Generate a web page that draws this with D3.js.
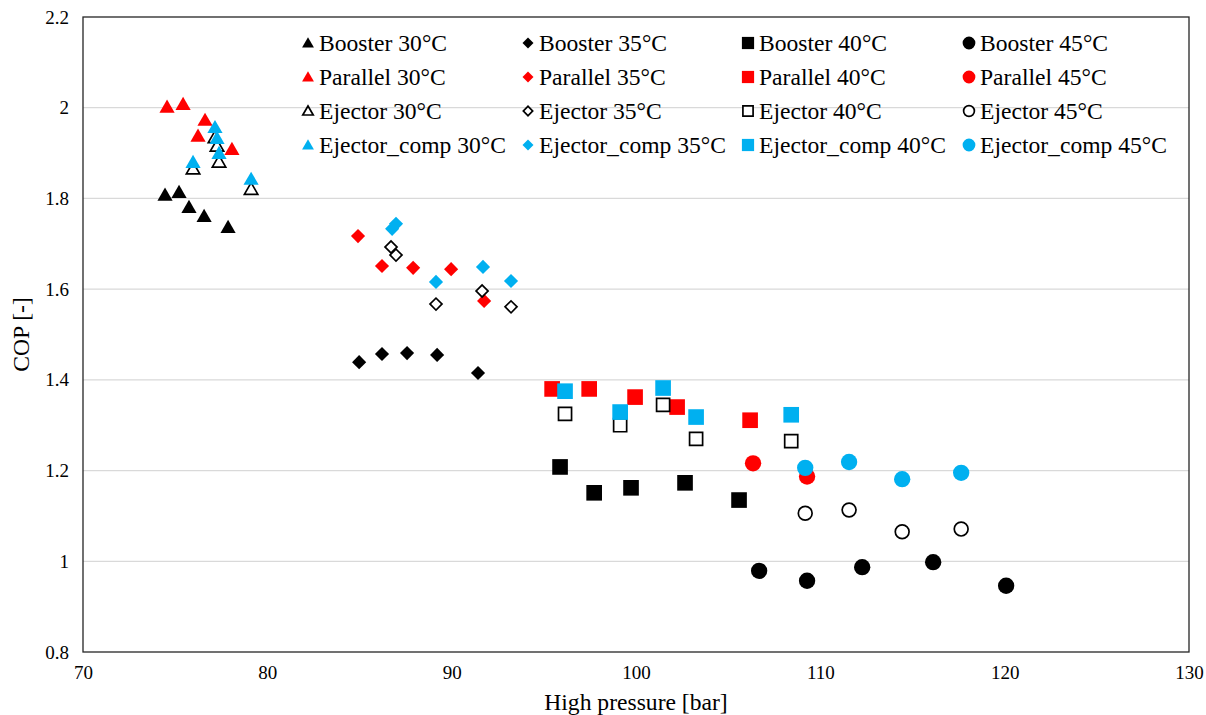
<!DOCTYPE html>
<html>
<head>
<meta charset="utf-8">
<script src="https://cdn.jsdelivr.net/npm/d3@7"></script>
<style>
  html, body { margin: 0; padding: 0; background: #fff; }
  svg { display: block; font-family: "Liberation Serif", "Times New Roman", serif; }
</style>
</head>
<body>
<svg id="chart" width="1206" height="715"></svg>
<script>
// ---------------- DATA ----------------
const temperatures = ["30°C", "35°C", "40°C", "45°C"];
const systems = ["Booster", "Parallel", "Ejector", "Ejector_comp"];
const xTicks = [70, 80, 90, 100, 110, 120, 130];
const yTicks = [0.8, 1, 1.2, 1.4, 1.6, 1.8, 2, 2.2];

// [high pressure (bar), COP]
const booster30 = [[74.45, 1.808], [75.21, 1.814], [75.75, 1.781], [76.57, 1.761], [77.87, 1.737]];
const booster35 = [[84.98, 1.439], [86.22, 1.457], [87.58, 1.459], [89.21, 1.455], [91.43, 1.415]];
const booster40 = [[95.88, 1.208], [97.73, 1.151], [99.73, 1.162], [102.66, 1.173], [105.59, 1.135]];
const booster45 = [[106.68, 0.979], [109.28, 0.957], [112.27, 0.987], [116.12, 0.998], [120.08, 0.946]];

const parallel30 = [[74.56, 2.002], [75.43, 2.008], [76.62, 1.973], [76.24, 1.938], [78.08, 1.909]];
const parallel35 = [[84.92, 1.717], [86.22, 1.651], [87.91, 1.647], [89.97, 1.644], [91.76, 1.574]];
const parallel40 = [[95.45, 1.380], [97.46, 1.380], [99.95, 1.362], [102.23, 1.340], [106.19, 1.311]];
const parallel45 = [[106.35, 1.216], [109.28, 1.187]];

const ejector30 = [[75.97, 1.866], [77.16, 1.935], [77.27, 1.916], [77.38, 1.881], [79.12, 1.821]];
const ejector35 = [[86.71, 1.693], [86.98, 1.675], [89.15, 1.567], [91.65, 1.596], [93.22, 1.561]];
const ejector40 = [[96.15, 1.325], [99.14, 1.300], [101.47, 1.345], [103.26, 1.270], [108.42, 1.265]];
const ejector45 = [[109.18, 1.106], [111.56, 1.113], [114.44, 1.065], [117.64, 1.071]];

const ejectorComp30 = [[75.97, 1.880], [77.16, 1.957], [77.27, 1.933], [77.38, 1.900], [79.12, 1.843]];
const ejectorComp35 = [[86.77, 1.733], [86.98, 1.744], [89.15, 1.616], [91.70, 1.649], [93.22, 1.618]];
const ejectorComp40 = [[96.15, 1.375], [99.14, 1.329], [101.47, 1.382], [103.26, 1.318], [108.42, 1.323]];
const ejectorComp45 = [[109.18, 1.206], [111.56, 1.219], [114.44, 1.181], [117.64, 1.195]];

// ---------------- SERIES TABLE ----------------
const dataBySystem = {
  "Booster": [booster30, booster35, booster40, booster45],
  "Parallel": [parallel30, parallel35, parallel40, parallel45],
  "Ejector": [ejector30, ejector35, ejector40, ejector45],
  "Ejector_comp": [ejectorComp30, ejectorComp35, ejectorComp40, ejectorComp45]
};
const fillBySystem = { "Booster": "#000000", "Parallel": "#ff0000", "Ejector": "none", "Ejector_comp": "#00b0f0" };
const shapeByTemp = ["triangle", "diamond", "square", "circle"];

const series = [];
systems.forEach((sys, si) => {
  temperatures.forEach((t, ti) => {
    series.push({ name: sys + " " + t, sys, ti, si, shape: shapeByTemp[ti], data: dataBySystem[sys][ti] });
  });
});

// ---------------- LAYOUT ----------------
const svg = d3.select("#chart");
const plot = { left: 83, right: 1189, top: 17, bottom: 652 };
const x = d3.scaleLinear().domain([70, 130]).range([plot.left, plot.right]);
const y = d3.scaleLinear().domain([0.8, 2.2]).range([plot.bottom, plot.top]);

// gridlines
svg.append("g").selectAll("line").data(yTicks.filter(v => v > 0.8 && v < 2.2)).join("line")
  .attr("x1", plot.left).attr("x2", plot.right)
  .attr("y1", d => y(d)).attr("y2", d => y(d))
  .attr("stroke", "#d9d9d9").attr("stroke-width", 1.3);

// axes (labels only)
const fmt = d => String(+d.toFixed(1));
const xAxis = d3.axisBottom(x).tickValues(xTicks).tickSize(0).tickPadding(14).tickFormat(fmt);
const yAxis = d3.axisLeft(y).tickValues(yTicks).tickSize(0).tickPadding(14).tickFormat(fmt);
const gx = svg.append("g").attr("transform", `translate(0,${plot.bottom})`).call(xAxis);
const gy = svg.append("g").attr("transform", `translate(${plot.left},0)`).call(yAxis);
[gx, gy].forEach(g => {
  g.select(".domain").remove();
  g.selectAll("text").attr("font-family", "'Liberation Serif', 'Times New Roman', serif")
    .attr("font-size", 19).attr("fill", "#000");
});

// frame
svg.append("rect").attr("x", plot.left).attr("y", plot.top)
  .attr("width", plot.right - plot.left).attr("height", plot.bottom - plot.top)
  .attr("fill", "none").attr("stroke", "#262626").attr("stroke-width", 1.3);

// axis titles
svg.append("text").attr("x", (plot.left + plot.right) / 2).attr("y", 710)
  .attr("text-anchor", "middle").attr("font-size", 23.6).text("High pressure [bar]");
svg.append("text").attr("transform", `translate(29,${(plot.top + plot.bottom) / 2}) rotate(-90)`)
  .attr("text-anchor", "middle").attr("font-size", 23.6).text("COP [-]");

// ---------------- MARKERS ----------------
function markerPath(shape, open, scale) {
  const k = scale || 1;
  if (shape === "triangle") return d3.symbol(d3.symbolTriangle, (open ? 78 : 100) * k * k)();
  if (shape === "diamond") return d3.symbol(d3.symbolSquare, (open ? 72 : 100) * k * k)();
  if (shape === "square") return d3.symbol(d3.symbolSquare, (open ? 170 : 245) * k * k)();
  return d3.symbol(d3.symbolCircle, (open ? 150 : 210) * k * k)();
}
function drawMarker(sel, s, scale) {
  const open = s.sys === "Ejector";
  sel.attr("d", markerPath(s.shape, open, scale))
    .attr("fill", open ? "#fff" : fillBySystem[s.sys])
    .attr("stroke", open ? "#000" : "none")
    .attr("stroke-width", open ? 1.7 : 0);
}

const markerLayer = svg.append("g");
series.forEach(s => {
  markerLayer.append("g").selectAll("path").data(s.data).join("path")
    .each(function () { drawMarker(d3.select(this), s, 1); })
    .attr("transform", d => {
      const ty = s.shape === "triangle" ? 1.5 : 0;
      return `translate(${x(d[0])},${y(d[1]) + ty})` + (s.shape === "diamond" ? " rotate(45)" : "");
    });
});

// ---------------- LEGEND ----------------
const legendCols = [308, 528, 748, 969];
const legendRows = [43, 77, 111, 145];
const legend = svg.append("g");
series.forEach(s => {
  const cx = legendCols[s.ti], cy = legendRows[s.si];
  const g = legend.append("g");
  g.append("path")
    .each(function () { drawMarker(d3.select(this), s, 0.78); })
    .attr("transform", `translate(${cx},${cy + (s.shape === "triangle" ? 1 : 0)})` + (s.shape === "diamond" ? " rotate(45)" : ""));
  g.append("text").attr("x", cx + 11).attr("y", cy + 8)
    .attr("font-size", 23.6).attr("fill", "#000").text(s.name);
});
</script>
</body>
</html>
